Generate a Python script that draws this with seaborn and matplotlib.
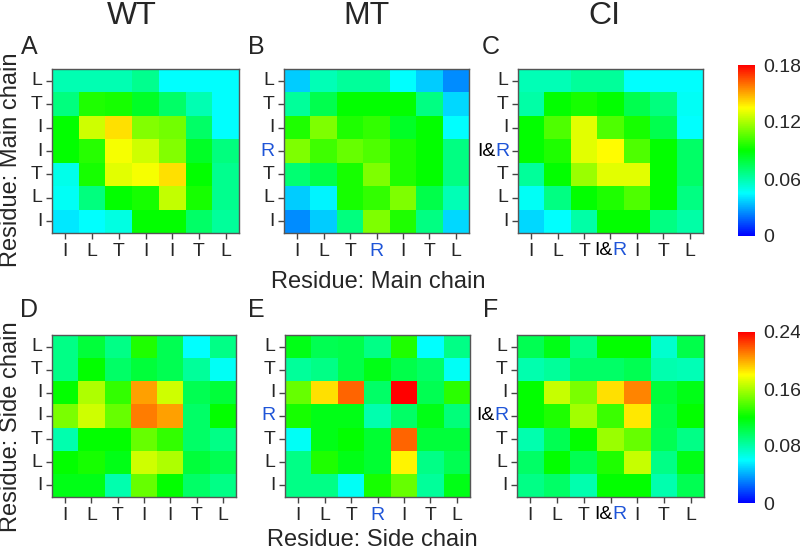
"""
Residue contact heatmaps for WT, MT and CI (main chain / side chain).
"""

import numpy as np
import matplotlib
matplotlib.use("Agg")
import matplotlib.pyplot as plt
import seaborn as sns
from matplotlib.colors import LinearSegmentedColormap
from matplotlib.offsetbox import TextArea, HPacker, AnnotationBbox

# ---- data -------------------------------------------------------------
wt_x = ["I", "L", "T", "I", "I", "T", "L"]
wt_y = ["L", "T", "I", "I", "T", "L", "I"]
mt_x = ["I", "L", "T", "R", "I", "T", "L"]
mt_y = ["L", "T", "I", "R", "T", "L", "I"]
ci_x = ["I", "L", "T", "I&R", "I", "T", "L"]
ci_y = ["L", "T", "I", "I&R", "T", "L", "I"]

main_wt = [
    [0.059, 0.059, 0.059, 0.065, 0.045, 0.045, 0.045],
    [0.068, 0.095, 0.094, 0.083, 0.072, 0.059, 0.045],
    [0.090, 0.126, 0.140, 0.113, 0.110, 0.072, 0.045],
    [0.090, 0.097, 0.133, 0.126, 0.113, 0.083, 0.068],
    [0.049, 0.094, 0.130, 0.133, 0.140, 0.090, 0.065],
    [0.047, 0.068, 0.090, 0.094, 0.124, 0.094, 0.065],
    [0.041, 0.045, 0.050, 0.090, 0.090, 0.072, 0.063],
]
main_mt = [
    [0.036, 0.058, 0.063, 0.063, 0.045, 0.036, 0.025],
    [0.063, 0.076, 0.090, 0.090, 0.090, 0.067, 0.038],
    [0.095, 0.112, 0.095, 0.099, 0.083, 0.090, 0.045],
    [0.112, 0.101, 0.108, 0.104, 0.095, 0.090, 0.067],
    [0.070, 0.077, 0.094, 0.112, 0.095, 0.090, 0.067],
    [0.036, 0.043, 0.094, 0.099, 0.112, 0.077, 0.058],
    [0.025, 0.036, 0.068, 0.112, 0.095, 0.067, 0.038],
]
main_ci = [
    [0.058, 0.058, 0.063, 0.063, 0.045, 0.045, 0.045],
    [0.061, 0.090, 0.094, 0.090, 0.076, 0.068, 0.047],
    [0.090, 0.104, 0.130, 0.104, 0.094, 0.076, 0.045],
    [0.090, 0.095, 0.130, 0.135, 0.104, 0.090, 0.072],
    [0.063, 0.090, 0.117, 0.130, 0.130, 0.090, 0.072],
    [0.047, 0.067, 0.090, 0.095, 0.104, 0.090, 0.067],
    [0.038, 0.045, 0.061, 0.090, 0.090, 0.067, 0.061],
]
side_wt = [
    [0.089, 0.106, 0.089, 0.127, 0.101, 0.060, 0.089],
    [0.089, 0.120, 0.096, 0.106, 0.101, 0.084, 0.062],
    [0.120, 0.161, 0.132, 0.202, 0.168, 0.101, 0.106],
    [0.149, 0.168, 0.144, 0.210, 0.202, 0.096, 0.120],
    [0.079, 0.120, 0.120, 0.144, 0.132, 0.096, 0.089],
    [0.120, 0.125, 0.115, 0.168, 0.161, 0.106, 0.101],
    [0.115, 0.115, 0.079, 0.144, 0.120, 0.096, 0.089],
]
side_mt = [
    [0.115, 0.101, 0.103, 0.089, 0.127, 0.060, 0.089],
    [0.084, 0.089, 0.103, 0.115, 0.103, 0.096, 0.062],
    [0.144, 0.187, 0.216, 0.096, 0.240, 0.101, 0.130],
    [0.125, 0.115, 0.115, 0.079, 0.096, 0.115, 0.091],
    [0.062, 0.115, 0.120, 0.108, 0.216, 0.106, 0.106],
    [0.089, 0.127, 0.115, 0.108, 0.182, 0.089, 0.101],
    [0.089, 0.089, 0.062, 0.125, 0.144, 0.084, 0.115],
]
side_ci = [
    [0.101, 0.115, 0.089, 0.120, 0.120, 0.072, 0.103],
    [0.079, 0.084, 0.096, 0.096, 0.101, 0.079, 0.077],
    [0.120, 0.166, 0.149, 0.187, 0.209, 0.106, 0.115],
    [0.120, 0.127, 0.158, 0.134, 0.185, 0.103, 0.120],
    [0.079, 0.101, 0.120, 0.156, 0.144, 0.101, 0.089],
    [0.096, 0.120, 0.101, 0.127, 0.166, 0.089, 0.115],
    [0.089, 0.096, 0.079, 0.120, 0.120, 0.079, 0.101],
]

main_max = 0.18
side_max = 0.24
main_ticks = [0, 0.06, 0.12, 0.18]
side_ticks = [0, 0.08, 0.16, 0.24]

# ---- style ------------------------------------------------------------
sns.set_style("white")
plt.rcParams['font.family'] = ['Liberation Sans', 'DejaVu Sans']

BLUE = '#1f55d8'
FS = 14
cmap = LinearSegmentedColormap.from_list(
    'rainbow5', ['#0000ff', '#00ffff', '#00ff00', '#ffff00', '#ff0000'])


def colored_label(ax, text_parts, xy, xycoords, align, offset):
    """Place a multi-colour tick label (e.g. I& + blue R)."""
    boxes = [TextArea(t, textprops=dict(color=c, fontsize=FS))
             for t, c in text_parts]
    pack = HPacker(children=boxes, pad=0, sep=0, align='baseline')
    ab = AnnotationBbox(pack, xy, xycoords=xycoords, xybox=offset,
                        boxcoords='offset points', box_alignment=align,
                        frameon=False, pad=0, annotation_clip=False)
    ax.add_artist(ab)


def draw_panel(ax, data, xlabels, ylabels, vmax, cax=None, ticks=None):
    sns.heatmap(np.array(data), ax=ax, cmap=cmap, vmin=0, vmax=vmax,
                cbar=cax is not None, cbar_ax=cax, linewidths=0,
                xticklabels=xlabels, yticklabels=ylabels)
    for s in ax.spines.values():
        s.set_visible(True)
        s.set_color('#555555')
        s.set_linewidth(1)
    ax.tick_params(axis='both', bottom=True, left=True, length=4, width=1,
                   color='#444444', labelsize=FS, pad=3)
    ax.set_xticklabels([l if l != 'I&R' else '' for l in xlabels],
                       rotation=0)
    ax.set_yticklabels([l if l != 'I&R' else '' for l in ylabels],
                       rotation=0)
    for lab in ax.get_xticklabels() + ax.get_yticklabels():
        if lab.get_text() == 'R':
            lab.set_color(BLUE)
    # multicolour "I&R"
    for i, lab in enumerate(xlabels):
        if lab == 'I&R':
            colored_label(ax, [('I&', 'black'), ('R', BLUE)],
                          (i + 0.5, 0), ('data', 'axes fraction'),
                          (0.5, 1.0), (0, -6.5))
    for i, lab in enumerate(ylabels):
        if lab == 'I&R':
            colored_label(ax, [('I&', 'black'), ('R', BLUE)],
                          (0, i + 0.5), ('axes fraction', 'data'),
                          (1.0, 0.5), (-6, 0))
    ax.set_xlabel('')
    ax.set_ylabel('')
    if cax is not None:
        cax.set_yticks(ticks)
        cax.set_yticklabels(['0'] + [f'{t:.2f}' for t in ticks[1:]])
        cax.tick_params(length=0, labelsize=FS, pad=6)
        for s in cax.spines.values():
            s.set_visible(False)


fig = plt.figure(figsize=(8, 5.5), dpi=100)
W, H = 800.0, 550.0


def box(x0, y0, x1, y1):
    return [x0 / W, 1 - y1 / H, (x1 - x0) / W, (y1 - y0) / H]


ax_a = fig.add_axes(box(52, 69, 239, 233))
ax_b = fig.add_axes(box(284, 69, 469, 233))
ax_c = fig.add_axes(box(518, 69, 703, 233))
ax_d = fig.add_axes(box(52, 335, 236, 497))
ax_e = fig.add_axes(box(285, 335, 470, 497))
ax_f = fig.add_axes(box(517, 335, 704, 497))
cax_top = fig.add_axes(box(738, 65, 755, 236))
cax_bot = fig.add_axes(box(738, 332, 755, 503))

draw_panel(ax_a, main_wt, wt_x, wt_y, main_max)
draw_panel(ax_b, main_mt, mt_x, mt_y, main_max)
draw_panel(ax_c, main_ci, ci_x, ci_y, main_max, cax_top, main_ticks)
draw_panel(ax_d, side_wt, wt_x, wt_y, side_max)
draw_panel(ax_e, side_mt, mt_x, mt_y, side_max)
draw_panel(ax_f, side_ci, ci_x, ci_y, side_max, cax_bot, side_ticks)

# column titles
for x, t in [(132, 'WT'), (367, 'MT'), (604, 'CI')]:
    fig.text(x / W, 1 - 16 / H, t, fontsize=23, ha='center', va='center')

# panel letters
for x, y, t in [(29, 47, 'A'), (256, 47, 'B'), (491, 47, 'C'),
                (29, 310, 'D'), (256, 310, 'E'), (491, 310, 'F')]:
    fig.text(x / W, 1 - y / H, t, fontsize=18, ha='center', va='center')

# axis titles
fig.text(11 / W, 1 - 160 / H, 'Residue: Main chain', fontsize=17,
         rotation=90, ha='center', va='center')
fig.text(11 / W, 1 - 427 / H, 'Residue: Side chain', fontsize=17,
         rotation=90, ha='center', va='center')
fig.text(378 / W, 1 - 282 / H, 'Residue: Main chain', fontsize=17,
         ha='center', va='center')
fig.text(372 / W, 1 - 540 / H, 'Residue: Side chain', fontsize=17,
         ha='center', va='center')

fig.savefig('out.png', dpi=100)
